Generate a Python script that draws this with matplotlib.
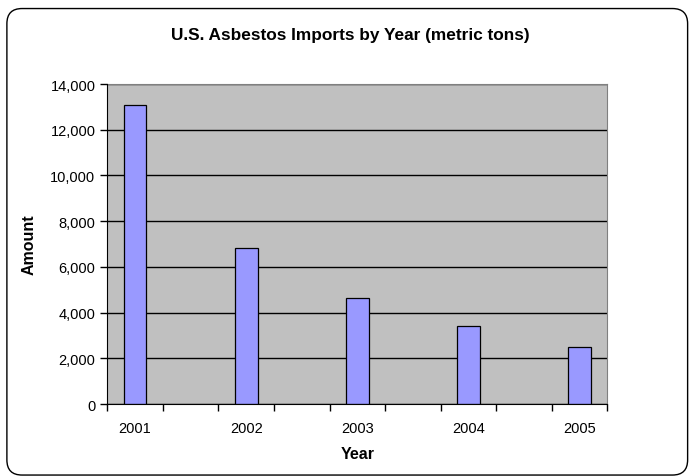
import matplotlib.pyplot as plt
import numpy as np
from matplotlib.patches import FancyBboxPatch
from matplotlib.ticker import FuncFormatter, FixedLocator

# Excel sheet had a blank row between years -> 9 category slots
categories = ["2001", "", "2002", "", "2003", "", "2004", "", "2005"]
amounts = [13100, np.nan, 6840, np.nan, 4630, np.nan, 3400, np.nan, 2500]

plt.rcParams["font.family"] = ["Liberation Sans", "DejaVu Sans"]

fig = plt.figure(figsize=(6.89, 4.77), dpi=100)
fig.patch.set_facecolor("white")

# rounded chart border
border = FancyBboxPatch(
    (0.010, 0.002), 0.988, 0.978,
    boxstyle="round,pad=0,rounding_size=0.022",
    transform=fig.transFigure, facecolor="none", edgecolor="black",
    linewidth=1.0, mutation_aspect=689 / 477,
)
fig.patches.append(border)

ax = fig.add_axes([0.1557, 0.1509, 0.7257, 0.6709])
ax.set_facecolor("#C0C0C0")

x = np.arange(len(categories))
ax.bar(x, amounts, width=0.41, color="#9999FF", edgecolor="black",
       linewidth=0.9, zorder=3)

ax.set_xlim(-0.5, len(categories) - 0.5)
ax.set_ylim(0, 14000)
ax.set_yticks(np.arange(0, 14001, 2000))
ax.yaxis.set_major_formatter(FuncFormatter(lambda v, p: "{:,.0f}".format(v)))
ax.grid(axis="y", color="black", linewidth=1.0, zorder=1)

# labels in slot centres, tick marks on slot boundaries
ax.set_xticks(x)
ax.set_xticklabels(categories)
ax.tick_params(axis="x", length=0, pad=12, labelsize=10.5)
ax.xaxis.set_minor_locator(FixedLocator(np.arange(-0.5, len(categories), 1)))
ax.tick_params(axis="x", which="minor", length=5, width=1, direction="out")
ax.tick_params(axis="y", length=5, width=1, direction="out", labelsize=10.5)

for side in ["top", "right"]:
    ax.spines[side].set_color("#808080")
for side in ["left", "bottom"]:
    ax.spines[side].set_color("black")
    ax.spines[side].set_zorder(4)

ax.set_xlabel("Year", fontsize=11.5, fontweight="bold", labelpad=8)
ax.set_ylabel("Amount", fontsize=11.5, fontweight="bold", labelpad=10)
fig.text(0.508, 0.925, "U.S. Asbestos Imports by Year (metric tons)",
         ha="center", va="center", fontsize=12.4, fontweight="bold")

fig.savefig("out.png", dpi=100)
